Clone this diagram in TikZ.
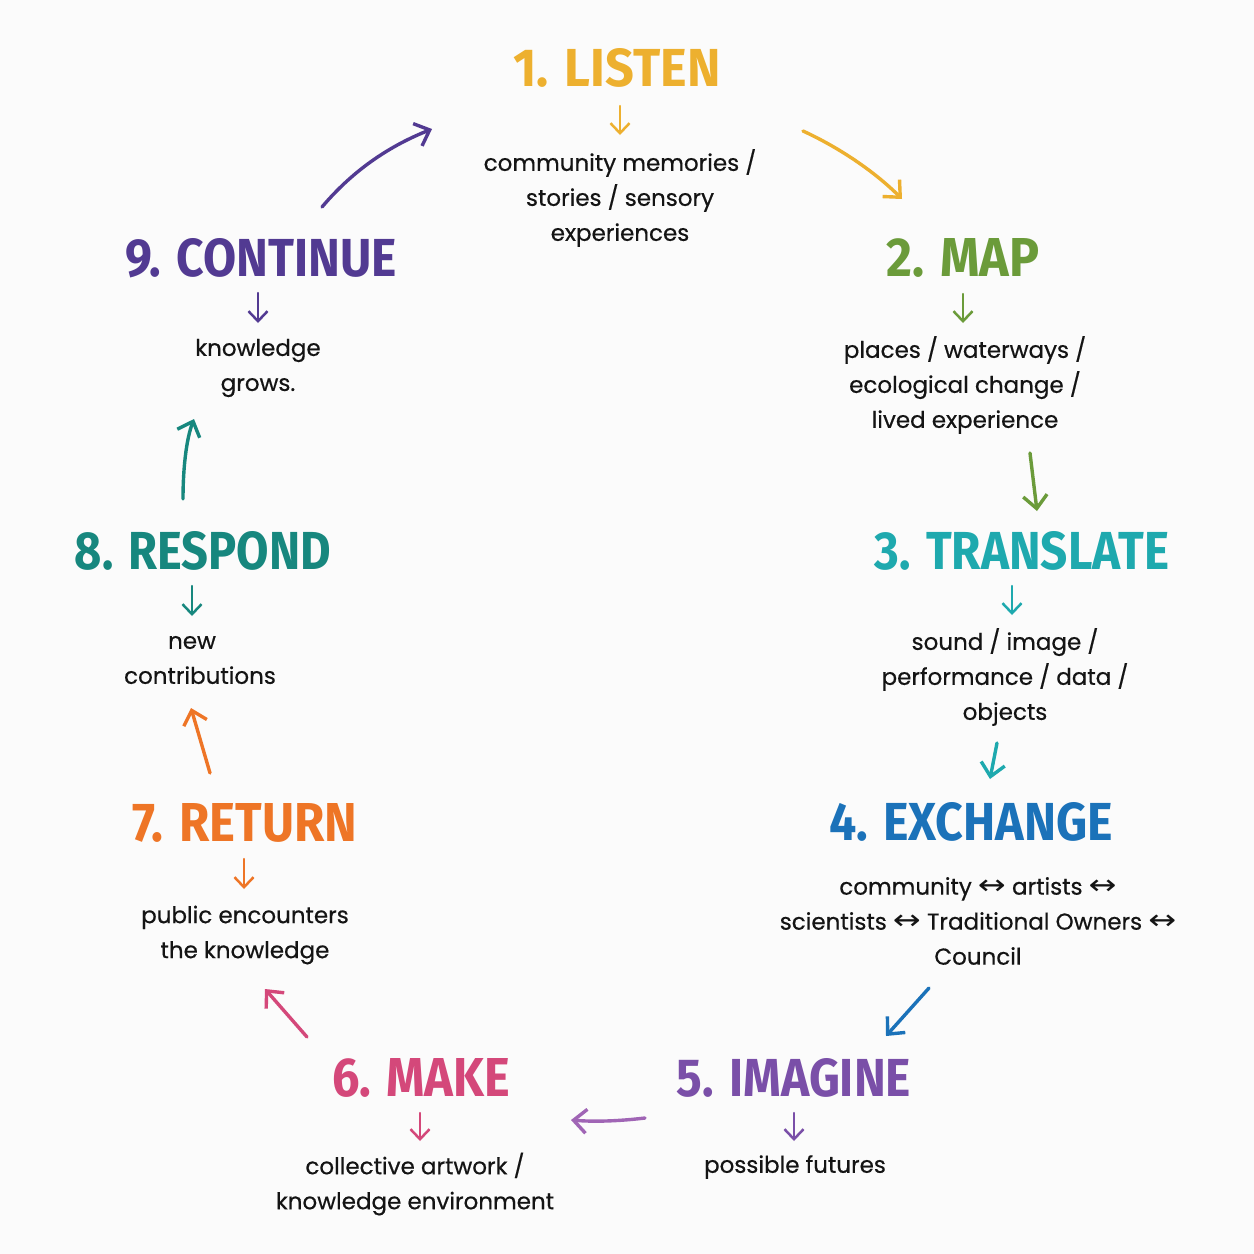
\documentclass[tikz,border=0pt]{standalone}
\usepackage{fontspec}
\usepackage{graphicx}
\setmainfont{Poppins}[FakeBold=0.5]
\newfontfamily\ttlfont{Fira Sans}
\newfontfamily\symf{DejaVu Sans}
\usetikzlibrary{arrows.meta}
\definecolor{cA}{HTML}{EDB02F}
\definecolor{cB}{HTML}{6B9B3A}
\definecolor{cC}{HTML}{1EA9AE}
\definecolor{cD}{HTML}{1B72B9}
\definecolor{cE}{HTML}{7A4FA8}
\definecolor{cF}{HTML}{D4487A}
\definecolor{cG}{HTML}{EE7526}
\definecolor{cH}{HTML}{17877E}
\definecolor{cI}{HTML}{523A92}
\definecolor{cEl}{HTML}{A065B5}
\definecolor{bg}{HTML}{FBFBFB}
\definecolor{txt}{HTML}{141414}
\newcommand{\ttl}[2]{\resizebox{#1pt}{38pt}{\ttlfont\bfseries #2}}
\newcommand{\lr}{\scalebox{1.45}[1.2]{\symf ↔}}
\tikzset{
  title/.style={inner sep=0pt, anchor=center},
  desc/.style={inner sep=0pt, align=center, text=txt, font=\fontsize{23}{35}\selectfont},
  small/.style={line width=2.5pt, line cap=round, -{Straight Barb[length=10pt,width=19pt,line width=2.5pt]}},
  big/.style={line width=3.4pt, line cap=round, -{Straight Barb[length=13pt,width=24pt,line width=3.4pt]}}
}
\begin{document}
\begin{tikzpicture}[x=1pt,y=-1pt]
\useasboundingbox (0,0) rectangle (1254,1254);
\fill[bg] (0,0) rectangle (1254,1254);
% titles
\node[title,text=cA] (t1) at (617,68) {\ttl{207}{1. LISTEN}};
\node[title,text=cB] (t2) at (963,258) {\ttl{153}{2. MAP}};
\node[title,text=cC] (t3) at (1022,551) {\ttl{294}{3. TRANSLATE}};
\node[title,text=cD] (t4) at (971,822) {\ttl{284}{4. EXCHANGE}};
\node[title,text=cE] (t5) at (794,1078) {\ttl{234}{5. IMAGINE}};
\node[title,text=cF] (t6) at (421,1078) {\ttl{178}{6. MAKE}};
\node[title,text=cG] (t7) at (245,823) {\ttl{224}{7. RETURN}};
\node[title,text=cH] (t8) at (203,551) {\ttl{256}{8. RESPOND}};
\node[title,text=cI] (t9) at (261,258) {\ttl{271}{9. CONTINUE}};
% descriptions
\node[desc] (d1) at (620,198) {community memories /\\stories / sensory\\experiences};
\node[desc] (d2) at (965,385) {places / waterways /\\ecological change /\\lived experience};
\node[desc] (d3) at (1005,677) {sound / image /\\performance / data /\\objects};
\node[desc] (d4) at (978,921) {community \lr{} artists \lr\\scientists \lr{} Traditional Owners \lr\\Council};
\node[desc] (d5) at (795,1167) {possible futures};
\node[desc] (d6) at (415,1184) {collective artwork /\\knowledge environment};
\node[desc] (d7) at (245,935) {public encounters\\the knowledge};
\node[desc] (d8) at (200,660) {\hspace*{-16pt}new\\contributions};
\node[desc] (d9) at (258,368) {knowledge\\grows.};
% small arrows
\coordinate (s1a) at (620,106); \coordinate (s1b) at (620,135);
\coordinate (s2a) at (963,294); \coordinate (s2b) at (963,323);
\coordinate (s3a) at (1012,586); \coordinate (s3b) at (1012,615);
\coordinate (s5a) at (794,1113); \coordinate (s5b) at (794,1141);
\coordinate (s6a) at (420,1113); \coordinate (s6b) at (420,1141);
\coordinate (s7a) at (244,859); \coordinate (s7b) at (244,889);
\coordinate (s8a) at (192,586); \coordinate (s8b) at (192,616);
\coordinate (s9a) at (258,293); \coordinate (s9b) at (258,323);
\draw[small,cA] (s1a) -- (s1b);
\draw[small,cB] (s2a) -- (s2b);
\draw[small,cC] (s3a) -- (s3b);
\draw[small,cE] (s5a) -- (s5b);
\draw[small,cF] (s6a) -- (s6b);
\draw[small,cG] (s7a) -- (s7b);
\draw[small,cH] (s8a) -- (s8b);
\draw[small,cI] (s9a) -- (s9b);
% big connectors
\coordinate (b1a) at (803,131); \coordinate (b1b) at (902,199);
\coordinate (b2a) at (1030,453); \coordinate (b2b) at (1037,511);
\coordinate (b3a) at (997,743); \coordinate (b3b) at (990,779);
\coordinate (b4a) at (929,988); \coordinate (b4b) at (886,1036);
\coordinate (b5a) at (645,1118); \coordinate (b5b) at (571,1120);
\coordinate (b6a) at (307,1037); \coordinate (b6b) at (265,989);
\coordinate (b7a) at (210,773); \coordinate (b7b) at (191,708);
\coordinate (b8a) at (183,499); \coordinate (b8b) at (194,419);
\coordinate (b9a) at (322,207); \coordinate (b9b) at (432,129);
\draw[big,cA] (b1a) .. controls (840,148) and (875,172) .. (b1b);
\draw[big,cB] (b2a) -- (b2b);
\draw[big,cC] (b3a) -- (b3b);
\draw[big,cD] (b4a) -- (b4b);
\draw[big,cEl] (b5a) .. controls (620,1121) and (595,1122) .. (b5b);
\draw[big,cF] (b6a) -- (b6b);
\draw[big,cG] (b7a) -- (b7b);
\draw[big,cH] (b8a) .. controls (183,470) and (186,440) .. (b8b);
\draw[big,cI] (b9a) .. controls (355,168) and (392,145) .. (b9b);
\end{tikzpicture}
\end{document}
